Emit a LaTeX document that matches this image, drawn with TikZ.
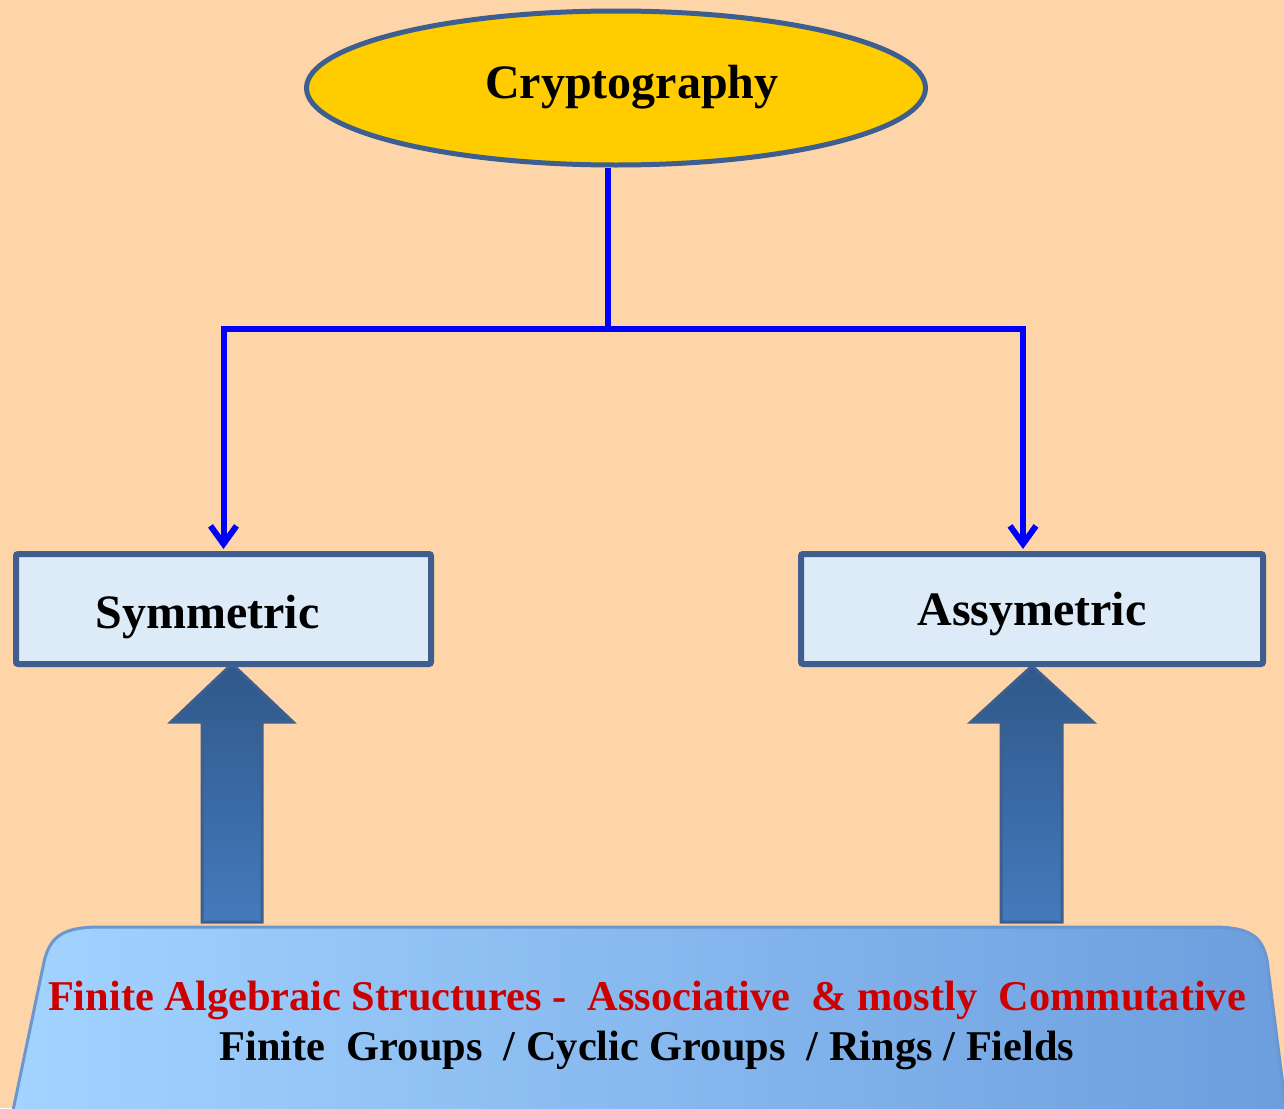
\documentclass[tikz,border=0pt]{standalone}
\usepackage{fontspec}
\setmainfont{Liberation Serif}
\usetikzlibrary{shapes.geometric,arrows.meta}
\definecolor{bg}{RGB}{254,213,168}
\definecolor{ellfill}{RGB}{255,204,0}
\definecolor{edgecol}{RGB}{61,95,143}
\definecolor{boxfill}{RGB}{221,234,247}
\definecolor{connblue}{RGB}{0,0,255}
\definecolor{arrdark}{RGB}{47,88,138}
\definecolor{arrlight}{RGB}{68,122,188}
\definecolor{baseleft}{RGB}{163,211,255}
\definecolor{baseright}{RGB}{108,158,222}
\definecolor{baseedge}{RGB}{108,150,206}
\definecolor{redtext}{RGB}{204,0,0}
\begin{document}
\begin{tikzpicture}[x=0.5pt,y=-0.5pt,
  boxstyle/.style={draw=edgecol,line width=3pt,fill=boxfill,minimum height=55pt,inner sep=0pt,rounded corners=1pt},
  bigtext/.style={font=\fontsize{24}{28}\selectfont\bfseries,anchor=base,inner sep=0pt},
  basetext/.style={font=\fontsize{21.2}{25}\selectfont\bfseries,anchor=base,inner sep=0pt},
  connline/.style={draw=connblue,line width=3pt},
  conntip/.style={-{Straight Barb[length=9pt,width=13pt]}},
  thickarrow/.style={draw=edgecol,line width=1.5pt,top color=arrdark,bottom color=arrlight},
  basestyle/.style={draw=baseedge,line width=1.5pt,left color=baseleft,right color=baseright}]
\clip (0,0) rectangle (1284,1108);
\fill[bg] (0,0) rectangle (1284,1108);

% top ellipse
\node[ellipse,draw=edgecol,line width=2.5pt,fill=ellfill,minimum width=309.5pt,minimum height=77pt,inner sep=0pt] (crypto) at (616,88) {};
\node[bigtext] (cryptotext) at (632,98) {Cryptography};

% boxes
\node[boxstyle,minimum width=207.5pt] (sym) at (223.5,609) {};
\node[bigtext] (symtext) at (207.5,628) {Symmetric};
\node[boxstyle,minimum width=231pt] (asym) at (1032,609) {};
\node[bigtext] (asymtext) at (1032,625) {Assymetric};

% connectors
\coordinate (j) at (608,328.5);
\draw[connline] (j |- crypto.south) -- (j);
\draw[connline,conntip] (j) -| ([yshift=1pt]sym.north);
\draw[connline,conntip] (j) -| ([xshift=-4.5pt,yshift=1pt]asym.north);

% thick arrows
\path[thickarrow] (202,922) -- (202,722) -- (171,722) -- (232,664) -- (293,722) -- (262,722) -- (262,922) -- cycle;
\path[thickarrow] (1001,922) -- (1001,722) -- (971,722) -- (1032,666) -- (1093,722) -- (1062,722) -- (1062,922) -- cycle;

% base shape
\path[basestyle] (10,1125) -- (44,962) .. controls (50,935) and (65,927) .. (100,927) -- (1212,927) .. controls (1248,927) and (1262,935) .. (1267,960) -- (1288,1125) -- cycle;

\node[basetext,text=redtext] (line1) at (647,1010) {Finite Algebraic Structures -\ \ Associative\ \ \& mostly\ \ Commutative};
\node[basetext] (line2) at (647,1060) {Finite\ \ Groups\ \ / Cyclic Groups\ \ / Rings / Fields};
\end{tikzpicture}
\end{document}
